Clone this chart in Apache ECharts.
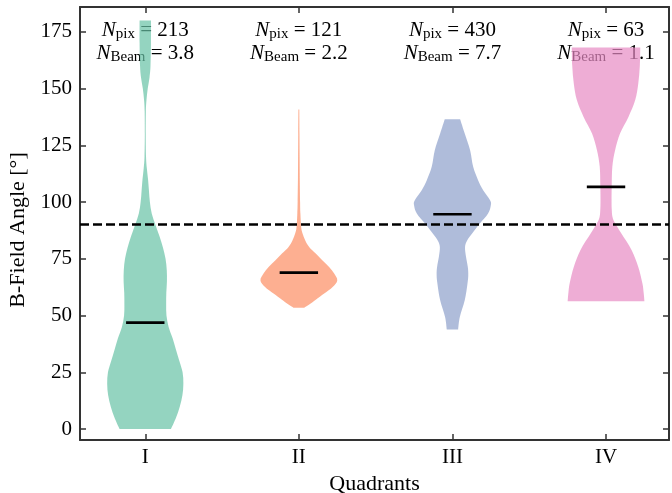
<!DOCTYPE html>
<html>
<head>
    <meta charset="utf-8">
    <script src="https://cdn.jsdelivr.net/npm/echarts@6/dist/echarts.min.js"></script>
    <style>
        html, body { margin: 0; padding: 0; background: #fff; }
    </style>
</head>
<body>
    <div id="main" style="width: 672px;height:493px;"></div>
    <script type="text/javascript">
        // data
        var quadrants = ['I', 'II', 'III', 'IV'];
        var nPix = [213, 121, 430, 63];
        var nBeam = ['3.8', '2.2', '7.7', '1.1'];
        var meanAngle = [46.9, 68.9, 94.6, 106.7];
        var refAngle = 90;
        var yTicks = [0, 25, 50, 75, 100, 125, 150, 175];

        // violin outlines: [angle, half width]
        var violinI = [[0, 0.167], [5, 0.2], [10, 0.225], [15, 0.242], [20, 0.248], [25, 0.243],
            [30, 0.222], [35, 0.2], [40, 0.178], [45, 0.152], [50, 0.138], [55, 0.136], [60, 0.137],
            [65, 0.141], [70, 0.14], [75, 0.132], [80, 0.115], [85, 0.092], [90, 0.066], [95, 0.042],
            [100, 0.03], [105, 0.024], [110, 0.018], [115, 0.01], [120, 0.005], [130, 0.003],
            [140, 0.004], [145, 0.008], [150, 0.016], [155, 0.028], [160, 0.034], [170, 0.037], [180, 0.037]];
        var violinII = [[53.5, 0.035], [55, 0.07], [57, 0.11], [59.7, 0.165], [62.6, 0.22], [65.5, 0.25],
            [68.5, 0.23], [71.4, 0.197], [74.3, 0.154], [77.3, 0.11], [80.2, 0.067], [83.2, 0.041],
            [86.1, 0.024], [89, 0.015], [95, 0.01], [100, 0.008], [110, 0.006], [120, 0.005],
            [130, 0.004], [140.8, 0.003]];
        var violinIII = [[43.9, 0.037], [49.4, 0.048], [56.7, 0.08], [64.1, 0.098], [68, 0.103],
            [71.4, 0.1], [76, 0.088], [80.2, 0.082], [83, 0.095], [86.1, 0.128], [90.5, 0.178],
            [94.9, 0.232], [98.6, 0.25], [100.8, 0.245], [105.2, 0.2], [109.6, 0.167], [115.5, 0.135],
            [122.8, 0.115], [130.2, 0.08], [136.5, 0.05]];
        var violinIV = [[56.3, 0.25], [60, 0.245], [64.1, 0.237], [71.4, 0.21], [78.8, 0.167],
            [86.1, 0.1], [90.5, 0.06], [93.4, 0.042], [97, 0.037], [100.8, 0.036], [106.7, 0.037],
            [115.5, 0.041], [122.8, 0.059], [130.2, 0.091], [137.5, 0.146], [144.9, 0.19],
            [152.2, 0.21], [160, 0.22], [168.1, 0.223]];
        var violins = [violinI, violinII, violinIII, violinIV];

        var colors = ['rgba(102,194,165,0.7)', 'rgba(252,141,98,0.7)',
                      'rgba(141,160,203,0.7)', 'rgba(231,138,195,0.7)'];
        var font = 'Liberation Serif';
        var spine = '#333';

        var positions = quadrants.map(function (q, i) { return i + 1; });

        var rich = {
            n: { fontFamily: font, fontSize: 21, fontStyle: 'italic', lineHeight: 23, color: '#000' },
            s: { fontFamily: font, fontSize: 15, lineHeight: 15, verticalAlign: 'bottom', color: '#000' },
            r: { fontFamily: font, fontSize: 21, lineHeight: 23, color: '#000' }
        };

        // smooth curve through points (catmull-rom as cubic bezier), no moveTo
        function curveThrough(p) {
            var s = '';
            var n = p.length;
            for (var i = 0; i < n - 1; i++) {
                var p0 = p[Math.max(i - 1, 0)], p1 = p[i], p2 = p[i + 1], p3 = p[Math.min(i + 2, n - 1)];
                var c1 = [p1[0] + (p2[0] - p0[0]) / 6, p1[1] + (p2[1] - p0[1]) / 6];
                var c2 = [p2[0] - (p3[0] - p1[0]) / 6, p2[1] - (p3[1] - p1[1]) / 6];
                s += ' C' + c1[0] + ' ' + c1[1] + ' ' + c2[0] + ' ' + c2[1] + ' ' + p2[0] + ' ' + p2[1];
            }
            return s;
        }

        function renderViolin(params, api) {
            var i = params.dataIndex;
            var xc = api.value(0);
            var prof = violins[i];
            var left = [], right = [];
            for (var k = 0; k < prof.length; k++) {
                left.push(api.coord([xc - prof[k][1], prof[k][0]]));
            }
            for (var k = prof.length - 1; k >= 0; k--) {
                right.push(api.coord([xc + prof[k][1], prof[k][0]]));
            }
            var d = 'M' + left[0][0] + ' ' + left[0][1] + curveThrough(left) +
                    ' L' + right[0][0] + ' ' + right[0][1] + curveThrough(right) + ' Z';
            var a = api.coord([xc - 0.125, meanAngle[i]]);
            var b = api.coord([xc + 0.125, meanAngle[i]]);
            return {
                type: 'group',
                children: [
                    { type: 'path', shape: { pathData: d }, style: { fill: colors[i] } },
                    { type: 'line', shape: { x1: a[0], y1: a[1], x2: b[0], y2: b[1] },
                      style: { stroke: '#000', lineWidth: 2.6 } }
                ]
            };
        }

        function renderNote(params, api) {
            var i = params.dataIndex;
            var p1 = api.coord([api.value(0), 175.6]);
            var p2 = api.coord([api.value(0), 165.6]);
            return {
                type: 'group',
                children: [
                    { type: 'text', x: p1[0], y: p1[1],
                      style: { text: '{n|N}{s|pix}{r| = ' + nPix[i] + '}', rich: rich,
                               align: 'center', verticalAlign: 'middle' } },
                    { type: 'text', x: p2[0], y: p2[1],
                      style: { text: '{n|N}{s|Beam}{r| = ' + nBeam[i] + '}', rich: rich,
                               align: 'center', verticalAlign: 'middle' } }
                ]
            };
        }

        var tickStyle = { color: spine, width: 1.5 };
        var lineStyle = { color: spine, width: 2 };

        option = {
            animation: false,
            grid: { left: 80, right: 3, top: 7, bottom: 53, containLabel: false, outerBoundsMode: 'none' },
            xAxis: [
                {
                    type: 'value', min: 0.575, max: 4.41,
                    axisLine: { show: true, onZero: false, lineStyle: lineStyle },
                    axisTick: { show: true, inside: true, length: 6, customValues: positions, lineStyle: tickStyle },
                    axisLabel: {
                        customValues: positions, margin: 7,
                        fontFamily: font, fontSize: 21, color: '#000',
                        formatter: function (v) { return quadrants[Math.round(v) - 1]; }
                    },
                    splitLine: { show: false },
                    name: 'Quadrants', nameLocation: 'middle', nameGap: 32,
                    nameTextStyle: { fontFamily: font, fontSize: 22, color: '#000' }
                },
                {
                    type: 'value', position: 'top', min: 0.575, max: 4.41,
                    axisLine: { show: true, onZero: false, lineStyle: lineStyle },
                    axisTick: { show: true, inside: true, length: 6, customValues: positions, lineStyle: tickStyle },
                    axisLabel: { show: false },
                    splitLine: { show: false }
                }
            ],
            yAxis: [
                {
                    type: 'value', min: -4.8, max: 185.9,
                    axisLine: { show: true, onZero: false, lineStyle: lineStyle },
                    axisTick: { show: true, inside: true, length: 6, customValues: yTicks, lineStyle: tickStyle },
                    axisLabel: { customValues: yTicks, margin: 8, fontFamily: font, fontSize: 21, color: '#000' },
                    splitLine: { show: false },
                    name: 'B-Field Angle [°]', nameLocation: 'middle', nameGap: 48,
                    nameTextStyle: { fontFamily: font, fontSize: 22, color: '#000', padding: [0, 13, 0, 0] }
                },
                {
                    type: 'value', position: 'right', min: -4.8, max: 185.9,
                    axisLine: { show: true, onZero: false, lineStyle: lineStyle },
                    axisTick: { show: true, inside: true, length: 6, customValues: yTicks, lineStyle: tickStyle },
                    axisLabel: { show: false },
                    splitLine: { show: false }
                }
            ],
            series: [
                {
                    name: 'notes', type: 'custom', z: 1,
                    renderItem: renderNote,
                    encode: { x: 0 },
                    data: positions
                },
                {
                    name: 'violins', type: 'custom', z: 2,
                    renderItem: renderViolin,
                    encode: { x: 0 },
                    data: positions
                },
                {
                    name: 'ref', type: 'line', z: 3,
                    data: [],
                    markLine: {
                        silent: true,
                        symbol: ['none', 'none'],
                        label: { show: false },
                        lineStyle: { color: '#000', width: 2.5, type: [9, 4] },
                        data: [{ yAxis: refAngle }]
                    }
                }
            ]
        };

        var myChart = echarts.init(document.getElementById('main'));
        myChart.setOption(option);
    </script>
</body>
</html>
